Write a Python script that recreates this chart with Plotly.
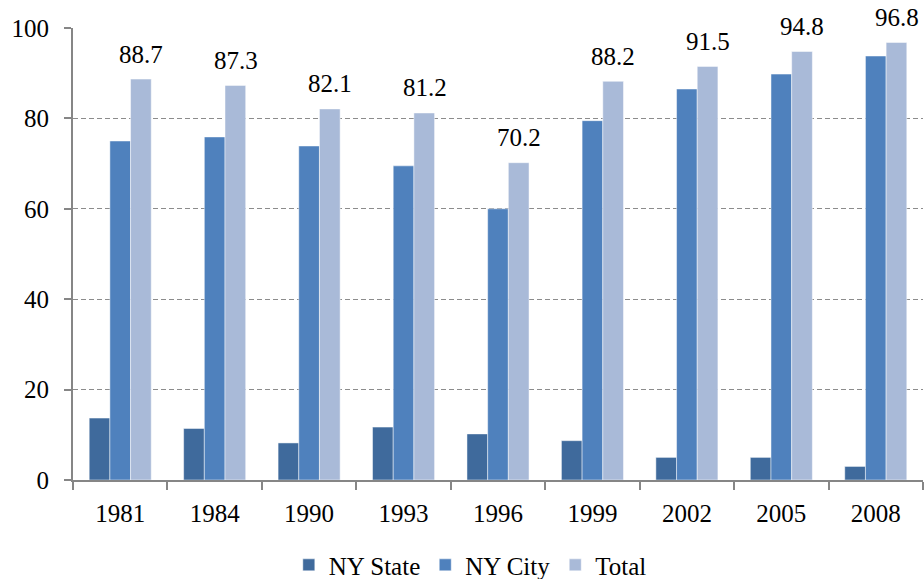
import plotly.graph_objects as go

years = ["1981", "1984", "1990", "1993", "1996", "1999", "2002", "2005", "2008"]
ny_state = [13.7, 11.4, 8.2, 11.7, 10.2, 8.7, 5.0, 5.0, 3.0]
ny_city = [75.0, 75.9, 73.9, 69.5, 60.0, 79.5, 86.5, 89.8, 93.8]
total = [88.7, 87.3, 82.1, 81.2, 70.2, 88.2, 91.5, 94.8, 96.8]
y_ticks = [0, 20, 40, 60, 80, 100]

FONT = "Liberation Serif, Times New Roman, serif"
colors = {"NY State": "#3F6A9C", "NY City": "#4F81BD", "Total": "#A9BAD8"}

fig = go.Figure()
for name, vals in [("NY State", ny_state), ("NY City", ny_city), ("Total", total)]:
    fig.add_trace(go.Bar(
        x=years, y=vals, name=name,
        marker=dict(color=colors[name], line=dict(color="rgba(255,255,255,0.6)", width=0.8)),
    ))

for i, v in enumerate(total):
    fig.add_annotation(x=i, y=v, text=f"{v:.1f}", showarrow=False,
                       xshift=21, yshift=25, yanchor="middle",
                       font=dict(family=FONT, size=25, color="black"))

fig.update_layout(
    width=924, height=579,
    margin=dict(l=73, r=1, t=28, b=99, autoexpand=False),
    paper_bgcolor="white", plot_bgcolor="white",
    barmode="group", bargap=0.343, bargroupgap=0,
    font=dict(family=FONT, size=25, color="black"),
    showlegend=True,
    legend=dict(orientation="h", xref="container", yref="container",
                x=0.509, xanchor="center", y=0.024, yanchor="middle",
                font=dict(family=FONT, size=25, color="black"),
                itemwidth=30, traceorder="normal"),
)
fig.update_xaxes(
    type="category", categoryorder="array", categoryarray=years,
    range=[-0.5, len(years) - 0.5],
    showline=True, linecolor="#868686", linewidth=2,
    ticks="outside", tickson="boundaries", ticklen=8, tickcolor="#868686", tickwidth=2,
    ticklabelstandoff=10, showgrid=False, tickangle=0, automargin=False,
)
fig.update_yaxes(
    range=[0, 100], tickvals=y_ticks, showline=True, linecolor="#868686", linewidth=2,
    ticks="outside", ticklen=7, tickcolor="#868686", tickwidth=2,
    showgrid=True, gridcolor="#8C8C8C", griddash="5px,3px", gridwidth=1.3,
    zeroline=False, ticklabelstandoff=10, automargin=False,
)
fig.write_html("out.html", config={"displayModeBar": False},
               post_script="document.body.style.margin='0';")
